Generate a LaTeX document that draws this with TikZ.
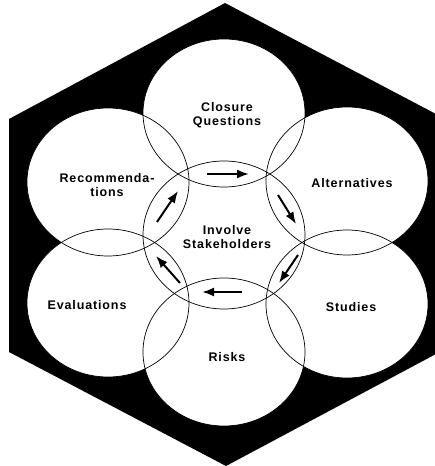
\documentclass[tikz,border=0pt]{standalone}
\usepackage{fontspec}
\usepackage{tikz}
\usetikzlibrary{arrows.meta}
\newfontfamily\lblfont{Liberation Sans}[LetterSpace=7]
\newcommand{\blobrx}{81pt}
\newcommand{\blobry}{74pt}
\tikzset{
	lbl/.style={font=\lblfont\bfseries\fontsize{12.5}{13.5}\selectfont, align=center, inner sep=0pt},
	turn/.style={line width=2pt, -{Latex[length=12pt,width=9pt]}}
}

\begin{document}
\begin{tikzpicture}[x=1pt,y=1pt]
	\useasboundingbox (0,0) rectangle (435,466);
	% hexagon
	\fill[black] (225,463) -- (436,352) -- (436,112) -- (226,0) -- (9,114) -- (9,347) -- cycle;

	\coordinate (mid) at (224,231);
	\coordinate (closure) at (224,353);
	\coordinate (alt) at (347,285);
	\coordinate (stud) at (347,162);
	\coordinate (risk) at (224,114);
	\coordinate (eval) at (108,163);
	\coordinate (recom) at (108,284);

	\foreach \c in {closure,alt,stud,risk,eval,recom,mid}
		\fill[white] (\c) ellipse [x radius=\blobrx, y radius=\blobry];
	\foreach \c in {closure,alt,stud,risk,eval,recom,mid}
		\draw[line width=0.7pt] (\c) ellipse [x radius=\blobrx, y radius=\blobry];

	\node[lbl] (closuretxt) at (227,351) {Closure\\Questions};
	\node[lbl] (recomtxt) at (107,281) {Recommenda-\\tions};
	\node[lbl] (alttxt) at (352,283) {Alternatives};
	\node[lbl] (midtxt) at (227,229) {Involve\\Stakeholders};
	\node[lbl] (evaltxt) at (87,161) {Evaluations};
	\node[lbl] (studtxt) at (351,159) {Studies};
	\node[lbl] (risktxt) at (227,109) {Risks};

	% arrows in the lenses
	\coordinate (a1) at (207,292); \coordinate (b1) at (249,292);
	\coordinate (a2) at (278,271); \coordinate (b2) at (296,242);
	\coordinate (a3) at (298,211); \coordinate (b3) at (279,183);
	\coordinate (a4) at (242,174); \coordinate (b4) at (202,174);
	\coordinate (a5) at (180,183); \coordinate (b5) at (156,210);
	\coordinate (a6) at (157,244); \coordinate (b6) at (178,275);
	\foreach \i in {1,...,6}
		\draw[turn] (a\i) -- (b\i);
\end{tikzpicture}
\end{document}
